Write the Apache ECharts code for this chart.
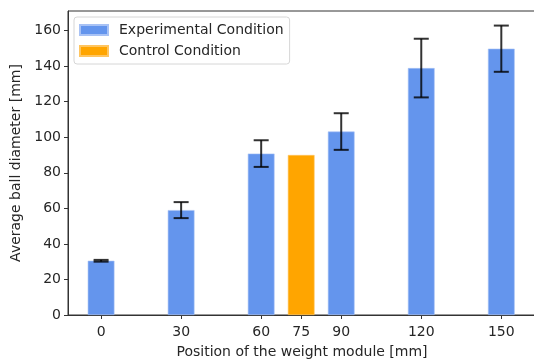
<!DOCTYPE html>
<html>
<head>
<meta charset="utf-8">
<script src="https://cdn.jsdelivr.net/npm/echarts@6/dist/echarts.min.js"></script>
<style>
  html, body { margin: 0; padding: 0; background: #fff; }
  #main { width: 534px; height: 361px; }
</style>
</head>
<body>
<div id="main"></div>
<script>
// positions of the weight module [mm]
const expPositions = [0, 30, 60, 90, 120, 150];
const expMeans = [30.5, 59, 90.8, 103.2, 138.9, 149.8];
const expErrors = [0.5, 4.5, 7.5, 10.3, 16.5, 13];

const ctrlPositions = [75];
const ctrlMeans = [90];

const xTicks = [0, 30, 60, 75, 90, 120, 150];
const yTicks = [0, 20, 40, 60, 80, 100, 120, 140, 160];

const font = 'DejaVu Sans';
const textColor = '#262626';
const fs = 14;

const chart = echarts.init(document.getElementById('main'), null, { renderer: 'canvas' });

const option = {
  animation: false,
  textStyle: { fontFamily: font },
  grid: {
    left: 68, top: 11, bottom: 46, right: -2,
    outerBoundsMode: 'none',
    containLabel: false,
    show: true, borderColor: '#333', borderWidth: 1, backgroundColor: 'transparent'
  },
  legend: {
    orient: 'vertical',
    left: 74, top: 17,
    padding: [6, 6, 6, 5],
    itemWidth: 28, itemHeight: 10, itemGap: 7, itemTextGap: 5,
    borderColor: '#d6d6d6', borderWidth: 1, borderRadius: 3,
    backgroundColor: 'rgba(255,255,255,0.8)',
    textStyle: { fontFamily: font, fontSize: fs, color: textColor, padding: [0, 0, 0, 6] },
    data: [
      { name: 'Experimental Condition', icon: 'rect' },
      { name: 'Control Condition', icon: 'rect' }
    ]
  },
  xAxis: {
    type: 'value',
    min: -12.4, max: 163,
    name: 'Position of the weight module [mm]',
    nameLocation: 'middle', nameGap: 30,
    nameTextStyle: { fontFamily: font, fontSize: fs, color: textColor },
    splitLine: { show: false },
    axisLine: { show: true, onZero: false, lineStyle: { color: '#333', width: 1 } },
    axisTick: { show: true, length: 4, customValues: xTicks, lineStyle: { color: '#333' } },
    axisLabel: { customValues: xTicks, fontSize: fs, color: textColor, margin: 10 }
  },
  yAxis: {
    type: 'value',
    min: 0, max: 171,
    name: 'Average ball diameter [mm]',
    nameLocation: 'middle', nameGap: 44,
    nameTextStyle: { fontFamily: font, fontSize: fs, color: textColor },
    splitLine: { show: false },
    axisLine: { show: true, onZero: false, lineStyle: { color: '#333', width: 1 } },
    axisTick: { show: true, length: 4, customValues: yTicks, lineStyle: { color: '#333' } },
    axisLabel: { customValues: yTicks, fontSize: fs, color: textColor, margin: 7 }
  },
  series: [
    {
      name: 'Experimental Condition',
      type: 'bar',
      barWidth: 26.7,
      barGap: '-100%',
      itemStyle: { color: '#6495ED', borderColor: '#a8c2f5', borderWidth: 0.6 },
      data: expPositions.map((x, i) => [x, expMeans[i]])
    },
    {
      name: 'Control Condition',
      type: 'bar',
      barWidth: 26.7,
      barGap: '-100%',
      itemStyle: { color: '#FFA500', borderColor: '#ffc560', borderWidth: 0.6 },
      data: ctrlPositions.map((x, i) => [x, ctrlMeans[i]])
    },
    {
      name: 'errors',
      type: 'custom',
      z: 10,
      renderItem: function (params, api) {
        const x = api.value(0);
        const lo = api.coord([x, api.value(1)]);
        const hi = api.coord([x, api.value(2)]);
        const cap = 7.5;
        const style = { stroke: 'rgba(0,0,0,0.8)', lineWidth: 2 };
        return {
          type: 'group',
          children: [
            { type: 'line', shape: { x1: lo[0], y1: lo[1], x2: hi[0], y2: hi[1] }, style: style },
            { type: 'line', shape: { x1: lo[0] - cap, y1: lo[1], x2: lo[0] + cap, y2: lo[1] }, style: style },
            { type: 'line', shape: { x1: hi[0] - cap, y1: hi[1], x2: hi[0] + cap, y2: hi[1] }, style: style }
          ]
        };
      },
      data: expPositions.map((x, i) => [x, expMeans[i] - expErrors[i], expMeans[i] + expErrors[i]])
    }
  ]
};

chart.setOption(option);
</script>
</body>
</html>
